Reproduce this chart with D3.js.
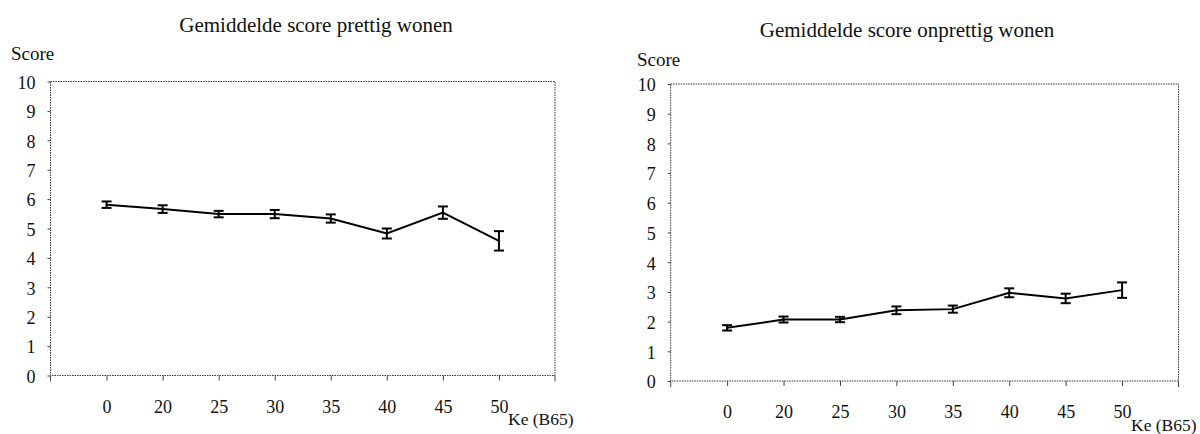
<!DOCTYPE html>
<html>
<head>
<meta charset="utf-8">
<script src="https://cdn.jsdelivr.net/npm/d3@7"></script>
<style>
  html, body { margin: 0; padding: 0; background: #fff; }
  svg { display: block; }
</style>
</head>
<body>
<svg id="chart" width="1200" height="434"></svg>
<script>
// Ke (B65) categories on the x axis
const categories = ["0", "20", "25", "30", "35", "40", "45", "50"];
const yTicks = [0, 1, 2, 3, 4, 5, 6, 7, 8, 9, 10];

// Mean score and error-bar half-width, "prettig wonen"
const prettigMean = [5.81, 5.66, 5.49, 5.49, 5.34, 4.83, 5.54, 4.58];
const prettigErr  = [0.11, 0.13, 0.11, 0.14, 0.14, 0.17, 0.21, 0.33];

// Mean score and error-bar half-width, "onprettig wonen"
const onprettigMean = [1.79, 2.07, 2.07, 2.38, 2.42, 2.97, 2.78, 3.06];
const onprettigErr  = [0.09, 0.10, 0.09, 0.13, 0.12, 0.15, 0.16, 0.26];

const titles = ["Gemiddelde score prettig wonen", "Gemiddelde score onprettig wonen"];
const yLabel = "Score";
const xLabel = "Ke (B65)";

const FONT = "'Liberation Serif', 'DejaVu Serif', serif";

const svg = d3.select("#chart").attr("font-family", FONT);

const panels = [
  { title: titles[0], mean: prettigMean, err: prettigErr,
    left: 50.5, right: 555, top: 81.5, bottom: 375.5,
    titleX: 316, titleY: 31.5, scoreX: 11, scoreY: 60,
    xLabY: 413, keX: 508, keY: 425 },
  { title: titles[1], mean: onprettigMean, err: onprettigErr,
    left: 670.7, right: 1178.5, top: 84, bottom: 381,
    titleX: 907, titleY: 37, scoreX: 637, scoreY: 66,
    xLabY: 418, keX: 1131, keY: 431 }
];

function serif(sel, size) {
  return sel.attr("font-family", FONT)
    .style("font-family", FONT)
    .style("font-size", size + "px")
    .attr("fill", "#111");
}

panels.forEach(p => {
  const g = svg.append("g");

  const x = d3.scalePoint().domain(categories).range([p.left, p.right]).padding(1);
  const y = d3.scaleLinear().domain([0, 10]).range([p.bottom, p.top]);

  // Title and axis captions
  serif(g.append("text"), 21).attr("x", p.titleX).attr("y", p.titleY)
    .attr("text-anchor", "middle").text(p.title);
  serif(g.append("text"), 19).attr("x", p.scoreX).attr("y", p.scoreY).text(yLabel);
  serif(g.append("text"), 17.5).attr("x", p.keX).attr("y", p.keY).text(xLabel);

  // Y axis ticks and labels
  const ya = g.append("g").attr("transform", `translate(${p.left},0)`)
    .call(d3.axisLeft(y).tickValues(yTicks).tickSize(3).tickPadding(12).tickFormat(d3.format("d")));
  ya.attr("font-family", FONT);
  ya.select(".domain").remove();
  ya.selectAll("line").attr("stroke", "#444");
  serif(ya.selectAll("text"), 18).attr("dy", "0.38em");

  // X axis ticks and labels
  const xa = g.append("g").attr("transform", `translate(0,${p.bottom})`)
    .call(d3.axisBottom(x).tickSize(5).tickPadding(0));
  xa.attr("font-family", FONT);
  xa.select(".domain").remove();
  xa.selectAll("line").attr("stroke", "#444");
  serif(xa.selectAll("text"), 18).attr("y", p.xLabY - p.bottom).attr("dy", 0);
  // end ticks at the frame corners
  [p.left, p.right].forEach(xx => {
    g.append("line").attr("x1", xx).attr("x2", xx)
      .attr("y1", p.bottom).attr("y2", p.bottom + 6)
      .attr("stroke", "#444");
  });

  // Dotted plot frame
  g.append("rect")
    .attr("x", p.left).attr("y", p.top)
    .attr("width", p.right - p.left).attr("height", p.bottom - p.top)
    .attr("fill", "none").attr("stroke", "#333")
    .attr("stroke-width", 1).attr("stroke-dasharray", "1.5,1");

  const pts = categories.map((c, i) => ({ c, m: p.mean[i], e: p.err[i] }));

  // Mean line
  g.append("path").datum(pts)
    .attr("fill", "none").attr("stroke", "#000").attr("stroke-width", 2)
    .attr("d", d3.line().x(d => x(d.c)).y(d => y(d.m)));

  // Error bars
  const eb = g.selectAll(".eb").data(pts).enter().append("g")
    .attr("stroke", "#000").attr("stroke-width", 2);
  eb.append("line")
    .attr("x1", d => x(d.c)).attr("x2", d => x(d.c))
    .attr("y1", d => y(d.m + d.e)).attr("y2", d => y(d.m - d.e));
  eb.append("line")
    .attr("x1", d => x(d.c) - 5).attr("x2", d => x(d.c) + 5)
    .attr("y1", d => y(d.m + d.e)).attr("y2", d => y(d.m + d.e));
  eb.append("line")
    .attr("x1", d => x(d.c) - 5).attr("x2", d => x(d.c) + 5)
    .attr("y1", d => y(d.m - d.e)).attr("y2", d => y(d.m - d.e));
});
</script>
</body>
</html>
